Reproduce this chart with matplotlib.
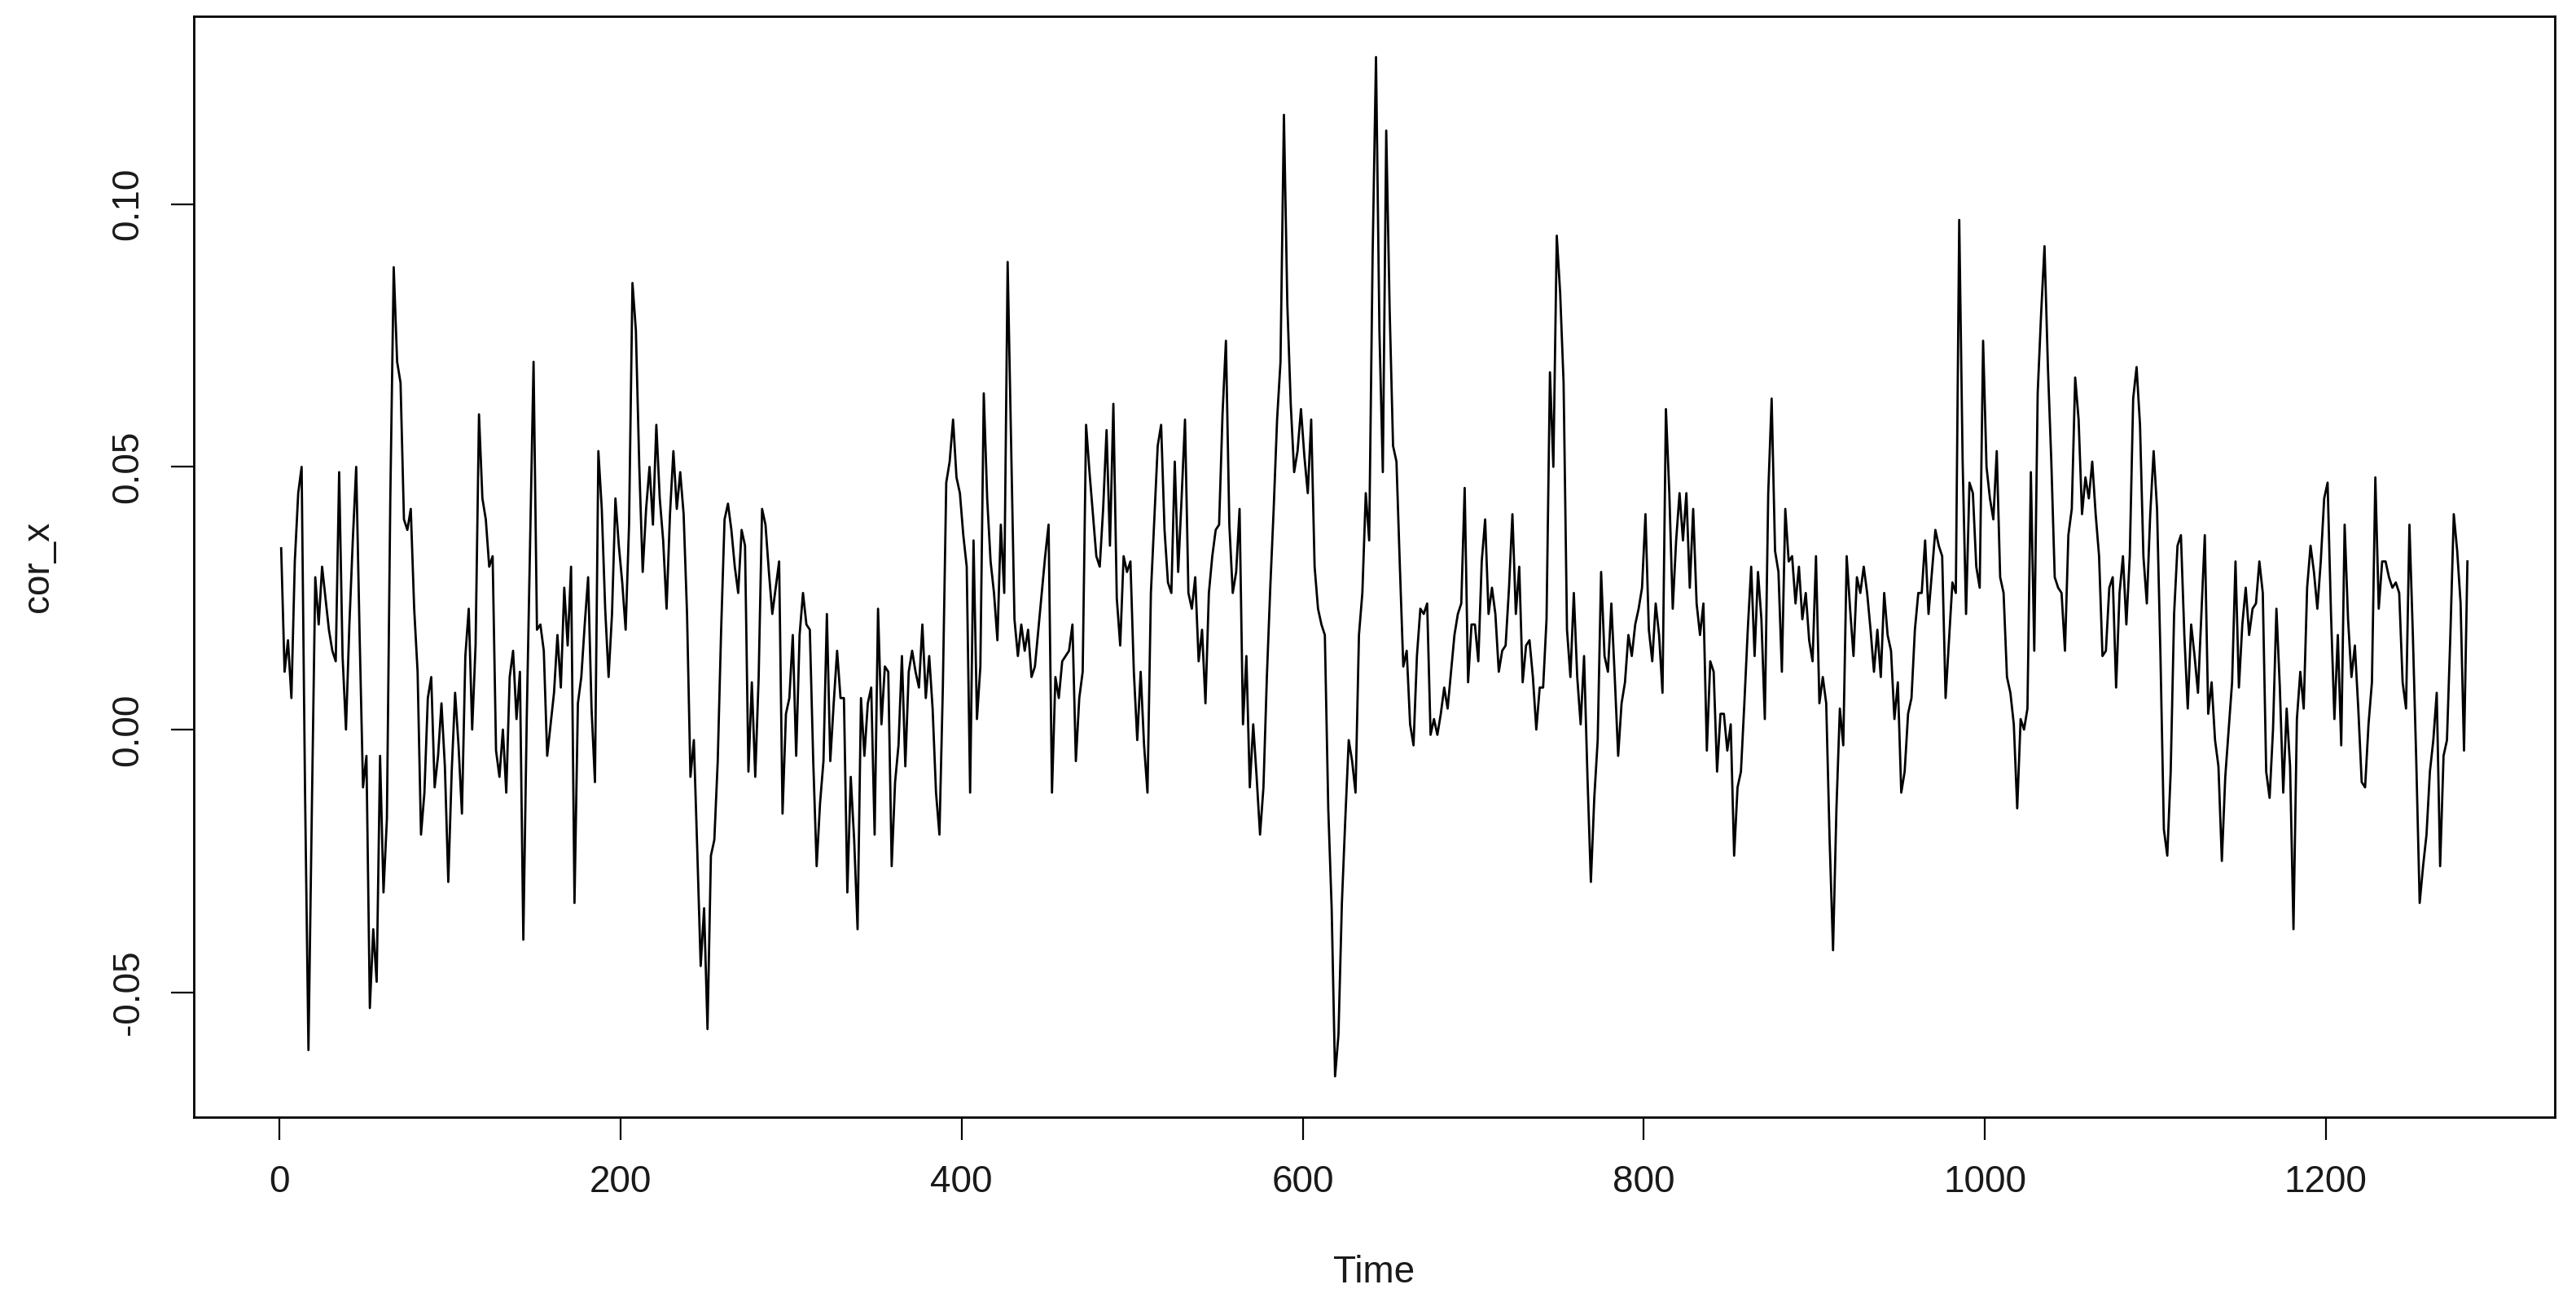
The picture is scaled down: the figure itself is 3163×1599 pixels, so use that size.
import matplotlib
matplotlib.use("Agg")
import matplotlib.pyplot as plt
import numpy as np

# values, one every 2 time steps (t = 1, 3, 5, ...)
seg_1 = [0.0345, 0.011, 0.017, 0.006, 0.032, 0.045, 0.050, -0.012, -0.061, -0.015,
         0.029, 0.020, 0.031, 0.025, 0.019, 0.015, 0.013, 0.049, 0.014, 0.0,
         0.020, 0.036, 0.050, 0.018, -0.011, -0.005, -0.053, -0.038, -0.048, -0.005,
         -0.031, -0.017, 0.044, 0.088, 0.070, 0.066, 0.040, 0.038, 0.042, 0.023,
         0.011, -0.020, -0.012, 0.006, 0.010, -0.011, -0.005, 0.005, -0.007, -0.029,
         -0.008, 0.007, -0.003, -0.016, 0.014, 0.023, 0.0, 0.016, 0.060, 0.044]
seg_2 = [0.040, 0.031, 0.033, -0.004, -0.009, 0.0, -0.012, 0.010, 0.015, 0.002,
         0.011, -0.040, 0.002, 0.036, 0.070, 0.019, 0.020, 0.015, -0.005, 0.001,
         0.007, 0.018, 0.008, 0.027, 0.016, 0.031, -0.033, 0.005, 0.010, 0.020,
         0.029, 0.004, -0.010, 0.053, 0.042, 0.023, 0.010, 0.022, 0.044, 0.035,
         0.028, 0.019, 0.039, 0.085, 0.076, 0.050, 0.030, 0.042, 0.050, 0.039,
         0.058, 0.044, 0.036, 0.023, 0.041, 0.053, 0.042, 0.049, 0.041, 0.022,
         -0.009, -0.002]
seg_3 = [-0.023, -0.045, -0.034, -0.057, -0.024, -0.021, -0.006, 0.019, 0.040, 0.043,
         0.038, 0.031, 0.026, 0.038, 0.035, -0.008, 0.009, -0.009, 0.010, 0.042,
         0.039, 0.030, 0.022, 0.027, 0.032, -0.016, 0.003, 0.006, 0.018, -0.005,
         0.018, 0.026, 0.020, 0.019, -0.006, -0.026, -0.014, -0.006, 0.022, -0.006,
         0.005, 0.015, 0.006, 0.006, -0.031, -0.009, -0.021, -0.038, 0.006, -0.005,
         0.005, 0.008, -0.020, 0.023, 0.001, 0.012, 0.011, -0.026, -0.010, -0.003,
         0.014, -0.007]
seg_4 = [0.011, 0.015, 0.011, 0.008, 0.020, 0.006, 0.014, 0.004, -0.012, -0.020,
         0.008, 0.047, 0.051, 0.059, 0.048, 0.045, 0.037, 0.031, -0.012, 0.036,
         0.002, 0.012, 0.064, 0.044, 0.032, 0.026, 0.017, 0.039, 0.026, 0.089,
         0.055, 0.021, 0.014, 0.020, 0.015, 0.019, 0.010, 0.012, 0.019, 0.026,
         0.033, 0.039, -0.012, 0.010, 0.006, 0.013, 0.014, 0.015, 0.020, -0.006,
         0.006, 0.011, 0.058, 0.049, 0.041, 0.033, 0.031, 0.042, 0.057, 0.035,
         0.062, 0.025]
seg_5 = [0.016, 0.033, 0.030, 0.032, 0.011, -0.002, 0.011, -0.003, -0.012, 0.026,
         0.040, 0.054, 0.058, 0.038, 0.028, 0.026, 0.051, 0.030, 0.044, 0.059,
         0.026, 0.023, 0.029, 0.013, 0.019, 0.005, 0.026, 0.033, 0.038, 0.039,
         0.060, 0.074, 0.039, 0.026, 0.030, 0.042, 0.001, 0.014, -0.011, 0.001,
         -0.009, -0.020, -0.011, 0.010, 0.027, 0.042, 0.059, 0.070, 0.117, 0.081,
         0.062, 0.049, 0.053, 0.061, 0.052, 0.045, 0.059, 0.031, 0.023, 0.020,
         0.018, -0.015]
seg_6 = [-0.034, -0.066, -0.058, -0.033, -0.017, -0.002, -0.006, -0.012, 0.018, 0.026,
         0.045, 0.036, 0.090, 0.128, 0.076, 0.049, 0.114, 0.080, 0.054, 0.051,
         0.031, 0.012, 0.015, 0.001, -0.003, 0.014, 0.023, 0.022, 0.024, -0.001,
         0.002, -0.001, 0.003, 0.008, 0.004, 0.011, 0.018, 0.022, 0.024, 0.046,
         0.009, 0.020, 0.020, 0.013, 0.032, 0.040, 0.022, 0.027, 0.022, 0.011,
         0.015, 0.016, 0.027, 0.041, 0.022, 0.031, 0.009, 0.016, 0.017, 0.010,
         0.0, 0.008]
seg_7 = [0.008, 0.021, 0.068, 0.050, 0.094, 0.083, 0.066, 0.019, 0.010, 0.026,
         0.010, 0.001, 0.014, -0.009, -0.029, -0.013, -0.002, 0.030, 0.014, 0.011,
         0.024, 0.010, -0.005, 0.005, 0.009, 0.018, 0.014, 0.020, 0.023, 0.027,
         0.041, 0.019, 0.013, 0.024, 0.018, 0.007, 0.061, 0.045, 0.023, 0.036,
         0.045, 0.036, 0.045, 0.027, 0.042, 0.024, 0.018, 0.024, -0.004, 0.013,
         0.011, -0.008, 0.003, 0.003, -0.004, 0.001, -0.024, -0.011, -0.008, 0.005,
         0.019, 0.031]
seg_8 = [0.014, 0.030, 0.021, 0.002, 0.045, 0.063, 0.034, 0.030, 0.011, 0.042,
         0.032, 0.033, 0.024, 0.031, 0.021, 0.026, 0.017, 0.013, 0.033, 0.005,
         0.010, 0.005, -0.021, -0.042, -0.015, 0.004, -0.003, 0.033, 0.023, 0.014,
         0.029, 0.026, 0.031, 0.026, 0.019, 0.011, 0.019, 0.010, 0.026, 0.018,
         0.015, 0.002, 0.009, -0.012, -0.008, 0.003, 0.006, 0.019, 0.026, 0.026,
         0.036, 0.022, 0.030, 0.038, 0.035, 0.033, 0.006, 0.017, 0.028, 0.026,
         0.097]
seg_9 = [0.051, 0.022, 0.047, 0.045, 0.031, 0.027, 0.074, 0.050, 0.044, 0.040,
         0.053, 0.029, 0.026, 0.010, 0.007, 0.001, -0.015, 0.002, 0.0, 0.004,
         0.049, 0.015, 0.064, 0.079, 0.092, 0.069, 0.051, 0.029, 0.027, 0.026,
         0.015, 0.037, 0.042, 0.067, 0.059, 0.041, 0.048, 0.044, 0.051, 0.041,
         0.033, 0.014, 0.015, 0.027, 0.029, 0.008, 0.026, 0.033, 0.020, 0.033,
         0.063, 0.069, 0.058, 0.033, 0.024, 0.041, 0.053, 0.042, 0.014, -0.019,
         -0.024, -0.008, 0.022]
seg_10 = [0.035, 0.037, 0.018, 0.004, 0.020, 0.014, 0.007, 0.022, 0.037, 0.003,
          0.009, -0.002, -0.007, -0.025, -0.009, 0.0, 0.009, 0.032, 0.008, 0.020,
          0.027, 0.018, 0.023, 0.024, 0.032, 0.026, -0.008, -0.013, 0.0, 0.023,
          0.008, -0.012, 0.004, -0.007, -0.038, 0.002, 0.011, 0.004, 0.027, 0.035,
          0.030, 0.023, 0.032, 0.044, 0.047, 0.022, 0.002, 0.018, -0.003, 0.039,
          0.021, 0.010, 0.016, 0.004, -0.010, -0.011, 0.001, 0.009, 0.048, 0.023,
          0.032, 0.032]
seg_11 = [0.029, 0.027, 0.028, 0.026, 0.009, 0.004, 0.039, 0.018, -0.006, -0.033,
          -0.026, -0.020, -0.008, -0.002, 0.007, -0.026, -0.005, -0.002, 0.018, 0.041,
          0.034, 0.024, -0.004, 0.032]

cor_x = np.array(seg_1 + seg_2 + seg_3 + seg_4 + seg_5 + seg_6
                 + seg_7 + seg_8 + seg_9 + seg_10 + seg_11)
time = np.arange(1, 2 * len(cor_x), 2)

x_ticks = [0, 200, 400, 600, 800, 1000, 1200]
y_ticks = [-0.05, 0.00, 0.05, 0.10]

plt.rcParams['font.family'] = ['Liberation Sans', 'DejaVu Sans']
plt.rcParams['axes.unicode_minus'] = False

fig = plt.figure(figsize=(31.63, 15.99), dpi=100)
ax = fig.add_axes([0.0752, 0.142, 0.9166, 0.8455])

ax.plot(time, cor_x, color='black', linewidth=2.0)

# R style: 4% padding around the data range
pad_x = 0.04 * (time[-1] - time[0])
ax.set_xlim(time[0] - pad_x, time[-1] + pad_x)
pad_y = 0.04 * (cor_x.max() - cor_x.min())
ax.set_ylim(cor_x.min() - pad_y, cor_x.max() + pad_y)

ax.set_xticks(x_ticks)
ax.set_xticklabels([str(v) for v in x_ticks])
ax.set_yticks(y_ticks)
ax.set_yticklabels(['%.2f' % v for v in y_ticks], rotation=90, va='center')

ax.tick_params(axis='both', labelsize=33, length=20, width=1.6, pad=22,
               color='black', labelcolor='#1a1a1a')
for sp in ax.spines.values():
    sp.set_linewidth(2)

ax.set_xlabel('Time', fontsize=33, labelpad=48, color='#1a1a1a')
ax.set_ylabel('cor_x', fontsize=33, labelpad=48, color='#1a1a1a')

fig.savefig('out.png', dpi=100)
